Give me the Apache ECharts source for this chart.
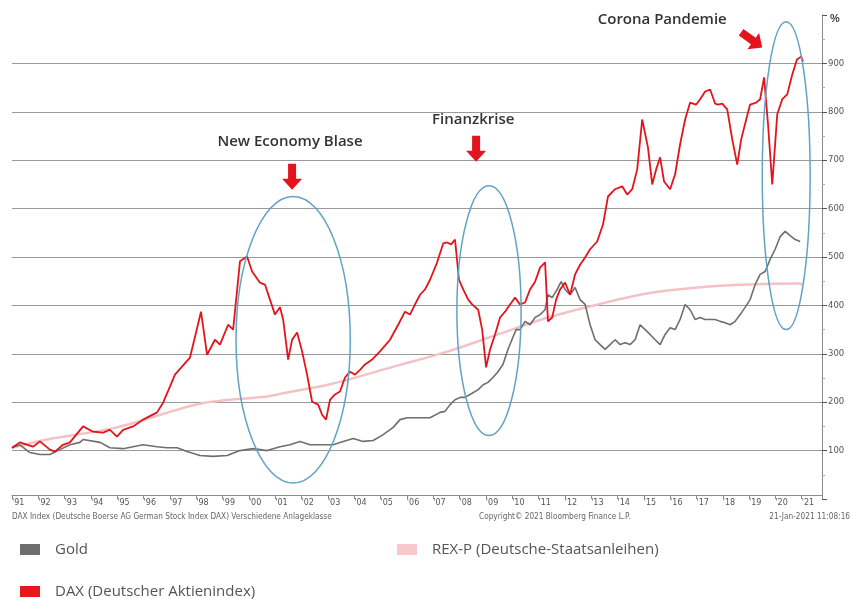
<!DOCTYPE html>
<html>
<head>
<meta charset="utf-8">
<script src="https://cdn.jsdelivr.net/npm/echarts@6/dist/echarts.min.js"></script>
<style>
  html, body { margin: 0; padding: 0; background: #fff; }
  #chart { width: 853px; height: 599px; }
</style>
</head>
<body>
<div id="chart"></div>
<script>
// [year, % indexed]
const daxData = [
  [1991.00,106],[1991.30,117],[1991.80,108],[1992.06,119],[1992.44,102],[1992.63,98],[1992.94,112],
  [1993.20,117],[1993.70,150],[1994.08,139],[1994.46,137],[1994.72,143],[1994.99,129],[1995.22,143],
  [1995.60,150],[1995.98,164],[1996.51,179],[1996.74,199],[1997.00,232],[1997.19,257],[1997.76,292],
  [1998.18,387],[1998.41,298],[1998.71,329],[1998.90,319],[1999.21,360],[1999.40,350],[1999.66,491],
  [1999.93,501],[2000.12,470],[2000.42,447],[2000.61,443],[2000.80,412],[2000.99,381],[2001.18,396],
  [2001.30,371],[2001.49,288],[2001.64,329],[2001.83,344],[2002.02,305],[2002.21,257],[2002.40,201],
  [2002.63,195],[2002.78,174],[2002.93,164],[2003.08,205],[2003.27,216],[2003.46,222],[2003.65,251],
  [2003.84,263],[2004.03,257],[2004.22,267],[2004.41,278],[2004.68,288],[2004.98,305],[2005.36,329],
  [2005.67,360],[2005.93,387],[2006.12,381],[2006.31,402],[2006.50,422],[2006.69,433],[2006.88,453],
  [2007.15,489],[2007.38,528],[2007.53,530],[2007.68,526],[2007.83,536],[2007.98,453],[2008.14,433],
  [2008.33,412],[2008.48,402],[2008.71,391],[2008.86,350],[2009.01,272],[2009.16,309],[2009.35,340],
  [2009.54,375],[2009.73,387],[2009.92,402],[2010.11,416],[2010.30,402],[2010.49,406],[2010.68,433],
  [2010.87,449],[2011.06,478],[2011.25,489],[2011.36,367],[2011.52,375],[2011.67,412],[2011.82,433],
  [2012.01,447],[2012.20,422],[2012.39,464],[2012.58,484],[2012.77,499],[2012.96,516],[2013.23,532],
  [2013.45,567],[2013.64,625],[2013.91,640],[2014.18,646],[2014.37,629],[2014.56,640],[2014.75,681],
  [2014.94,784],[2015.16,726],[2015.32,650],[2015.47,681],[2015.62,706],[2015.77,656],[2016.00,640],
  [2016.19,671],[2016.38,733],[2016.57,784],[2016.76,819],[2016.99,815],[2017.14,826],[2017.33,842],
  [2017.52,846],[2017.71,817],[2017.82,815],[2017.98,817],[2018.17,805],[2018.36,743],[2018.55,691],
  [2018.70,743],[2018.89,784],[2019.04,815],[2019.27,819],[2019.42,826],[2019.57,871],[2019.72,774],
  [2019.88,650],[2020.07,795],[2020.26,826],[2020.45,836],[2020.64,877],[2020.82,908],[2020.98,914],
  [2021.05,904]
];

const goldData = [
  [1991.00,106],[1991.30,112],[1991.68,96],[1992.06,92],[1992.44,92],[1992.82,102],[1993.20,112],
  [1993.58,117],[1993.70,123],[1994.35,117],[1994.72,106],[1995.22,104],[1995.60,108],[1995.98,112],
  [1996.51,108],[1996.89,106],[1997.27,106],[1997.65,98],[1998.14,90],[1998.64,88],[1999.17,90],
  [1999.66,100],[2000.16,104],[2000.69,100],[2001.18,108],[2001.56,112],[2001.94,119],[2002.32,112],
  [2002.70,112],[2003.20,112],[2003.58,119],[2003.96,125],[2004.34,119],[2004.72,121],[2005.10,133],
  [2005.48,148],[2005.74,164],[2006.01,168],[2006.39,168],[2006.88,168],[2007.26,179],[2007.45,181],
  [2007.64,195],[2007.83,205],[2008.02,210],[2008.20,210],[2008.40,216],[2008.71,226],[2008.90,236],
  [2009.08,241],[2009.27,251],[2009.46,263],[2009.65,278],[2009.84,309],[2009.99,329],[2010.15,350],
  [2010.30,350],[2010.49,367],[2010.68,360],[2010.87,375],[2011.06,381],[2011.25,391],[2011.36,422],
  [2011.52,416],[2011.71,433],[2011.86,449],[2012.01,433],[2012.20,422],[2012.39,437],[2012.58,412],
  [2012.77,402],[2012.96,360],[2013.15,329],[2013.34,319],[2013.53,309],[2013.72,319],[2013.91,329],
  [2014.10,319],[2014.29,323],[2014.48,319],[2014.67,329],[2014.86,360],[2015.05,350],[2015.24,340],
  [2015.43,329],[2015.62,319],[2015.81,340],[2016.00,354],[2016.19,350],[2016.38,371],[2016.57,402],
  [2016.76,391],[2016.95,371],[2017.14,375],[2017.33,371],[2017.52,371],[2017.71,371],[2017.90,367],
  [2018.09,364],[2018.28,360],[2018.47,367],[2018.66,381],[2018.85,396],[2019.04,412],[2019.23,443],
  [2019.42,464],[2019.61,470],[2019.80,495],[2019.99,516],[2020.18,542],[2020.37,553],[2020.56,544],
  [2020.75,536],[2020.94,532]
];

const rexData = [
  [1991.00,106],[1992.33,123],[1994.99,148],[1998.15,197],[2000.69,212],[2001.45,220],[2003.08,237],
  [2005.67,276],[2007.57,305],[2009.46,340],[2011.36,375],[2013.26,402],[2015.16,425],[2017.06,437],
  [2018.96,443],[2020.86,445],[2021.05,443]
];

const seriesNames = ['Gold', 'REX-P (Deutsche-Staatsanleihen)', 'DAX (Deutscher Aktienindex)'];
const yTicks = [100, 200, 300, 400, 500, 600, 700, 800, 900];

// annotations in data coordinates: [year, value]
const ellipses = [
  { center: [2001.68, 329], rx: 2.17, ry: 296 },
  { center: [2009.12, 389], rx: 1.22, ry: 258 },
  { center: [2020.41, 668], rx: 0.91, ry: 318 }
];
const notes = [
  { text: 'New Economy Blase', at: [2001.56, 739], arrow: [2001.64, 639], turn: 0 },
  { text: 'Finanzkrise', at: [2008.52, 784], arrow: [2008.63, 697], turn: 0 },
  { text: 'Corona Pandemie', at: [2015.70, 991], arrow: [2019.50, 933], turn: 0.95 }
];

const chart = echarts.init(document.getElementById('chart'));

const option = {
  animation: false,
  grid: { left: 12, right: 31, top: 15, bottom: 100 },
  xAxis: {
    type: 'value',
    min: 1991,
    max: 2021.77,
    interval: 1,
    offset: -4,
    axisLine: { lineStyle: { color: '#8a8a8a', width: 1 } },
    axisTick: { show: true, length: 4, lineStyle: { color: '#8a8a8a' } },
    splitLine: { show: false },
    axisLabel: {
      color: '#555',
      fontSize: 8,
      fontFamily: 'DejaVu Sans',
      margin: 4,
      align: 'left',
      showMaxLabel: false,
      formatter: (v) => (Number.isInteger(v) ? "'" + String(v).slice(2) : '')
    }
  },
  yAxis: {
    type: 'value',
    position: 'right',
    min: 0,
    max: 1000,
    interval: 100,
    name: '%',
    nameLocation: 'end',
    nameGap: -9,
    nameTextStyle: { color: '#444', fontSize: 11, fontWeight: 'bold', align: 'left', padding: [0, 0, 0, 8] },
    axisLine: { show: true, lineStyle: { color: '#8a8a8a', width: 1 } },
    axisTick: { show: true, length: 5, lineStyle: { color: '#555' } },
    minorTick: { show: true, splitNumber: 2, length: 3, lineStyle: { color: '#aaa' } },
    axisLabel: {
      color: '#555',
      fontSize: 8.5,
      fontFamily: 'DejaVu Sans',
      margin: 6,
      formatter: (v) => (yTicks.includes(v) ? String(v) : '')
    },
    splitLine: { show: true, showMinLine: false, showMaxLine: false, lineStyle: { color: '#999', width: 1 } }
  },
  legend: [
    { data: [seriesNames[0]], left: 20, top: 542 },
    { data: [seriesNames[1]], left: 397, top: 542 },
    { data: [seriesNames[2]], left: 20, top: 584 }
  ].map((l) => Object.assign(l, {
    icon: 'rect',
    itemWidth: 20,
    itemHeight: 11,
    itemGap: 12,
    padding: 0,
    textStyle: { color: '#555', fontSize: 15, fontFamily: 'Open Sans', padding: [0, 0, 0, 10] }
  })),
  series: [
    {
      name: seriesNames[1], type: 'line', data: rexData, showSymbol: false, smooth: 0.3, z: 1,
      lineStyle: { color: '#f4c2c6', width: 2.5 }, itemStyle: { color: '#f7c9cc' }
    },
    {
      name: seriesNames[0], type: 'line', data: goldData, showSymbol: false, z: 2,
      lineStyle: { color: '#6e6e6e', width: 1.6 }, itemStyle: { color: '#6e6e6e' }
    },
    {
      name: seriesNames[2], type: 'line', data: daxData, showSymbol: false, z: 3,
      lineStyle: { color: '#e3141b', width: 1.8 }, itemStyle: { color: '#e8161d' }
    }
  ]
};

chart.setOption(option);

// annotations placed through the chart's own scales
const px = (p) => chart.convertToPixel({ gridIndex: 0 }, p);
const arrowPts = [[-4, -26], [4, -26], [4, -11], [10, -11], [0, 0], [-10, -11], [-4, -11]];
const graphics = [];

ellipses.forEach((e) => {
  const c = px(e.center);
  const r = px([e.center[0] + e.rx, e.center[1] + e.ry]);
  graphics.push({
    type: 'ellipse', z: 10, silent: true,
    shape: { cx: c[0], cy: c[1], rx: Math.abs(r[0] - c[0]), ry: Math.abs(c[1] - r[1]) },
    style: { fill: 'none', stroke: '#5fa3c6', lineWidth: 1.5 }
  });
});

notes.forEach((n) => {
  const t = px(n.at);
  graphics.push({
    type: 'text', z: 11, silent: true, x: t[0], y: t[1],
    style: {
      text: n.text, fill: '#333', fontSize: 15, fontWeight: 600,
      fontFamily: 'Open Sans', align: 'center', verticalAlign: 'middle'
    }
  });
  const a = px(n.arrow);
  graphics.push({
    type: 'polygon', z: 11, silent: true, x: a[0], y: a[1], rotation: n.turn,
    shape: { points: arrowPts },
    style: { fill: '#e3141b' }
  });
});

// footnotes under the axis
graphics.push(
  { type: 'text', left: 12, top: 513, style: { text: 'DAX Index (Deutsche Boerse AG German Stock Index DAX) Verschiedene Anlageklasse', fill: '#666', fontSize: 8.2, fontFamily: 'DejaVu Sans Condensed' } },
  { type: 'text', left: 479, top: 513, style: { text: 'Copyright\u00A9 2021 Bloomberg Finance L.P.', fill: '#666', fontSize: 8.2, fontFamily: 'DejaVu Sans Condensed' } },
  { type: 'text', right: 3, top: 513, style: { text: '21-Jan-2021 11:08:16', fill: '#666', fontSize: 8.2, fontFamily: 'DejaVu Sans Condensed' } }
);

chart.setOption({ graphic: graphics });
</script>
</body>
</html>
